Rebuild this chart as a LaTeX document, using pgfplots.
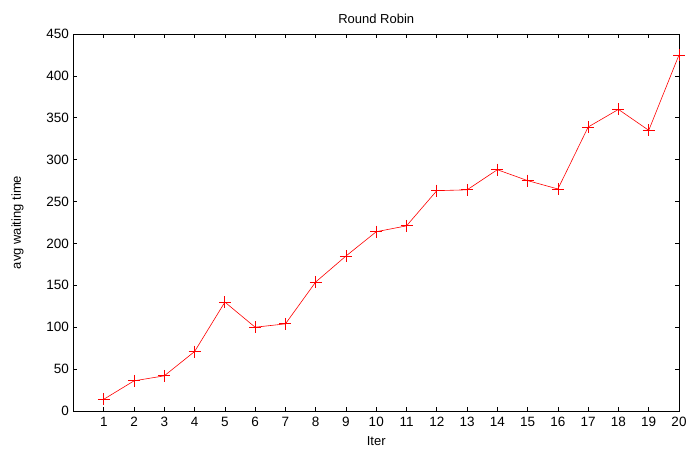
\documentclass[border=0pt]{standalone}
\usepackage{fontspec}
\setmainfont{Liberation Sans}
\usepackage{pgfplots}
\pgfplotsset{compat=1.18}
\begin{document}
\begin{tikzpicture}[x=1bp,y=1bp]
\useasboundingbox (-73.5bp,-40bp) rectangle (612.5bp,411bp);
\begin{axis}[
  at={(0,0)}, anchor=south west,
  scale only axis, width=605.5bp, height=377bp,
  xmin=0, xmax=20, ymin=0, ymax=450,
  xtick={1,...,20}, ytick={0,50,...,450},
  tick align=inside, major tick length=4bp,
  axis line style={black, line width=0.9bp},
  tick style={black, line width=0.7bp},
  /pgf/number format/assume math mode=true,
  ticklabel style={font=\fontsize{13.5bp}{15bp}\selectfont},
  label style={font=\fontsize{13bp}{14bp}\selectfont},
  title style={font=\fontsize{13bp}{14bp}\selectfont, yshift=1bp},
  title={Round Robin},
  xlabel={Iter}, ylabel={avg waiting time},
  xlabel style={yshift=-3bp},
  ylabel style={yshift=16bp},
  yticklabel style={xshift=-1bp},
  xticklabel style={yshift=-3bp},
]
\addplot[red, line width=0.6bp, mark=+, mark size=6bp, mark options={line width=0.8bp}] coordinates {
(1,14) (2,36) (3,42) (4,71) (5,130) (6,100) (7,104) (8,154) (9,185) (10,214)
(11,221) (12,263) (13,264) (14,288) (15,275) (16,265) (17,339) (18,360) (19,335) (20,425)
};
\end{axis}
\end{tikzpicture}
\end{document}
